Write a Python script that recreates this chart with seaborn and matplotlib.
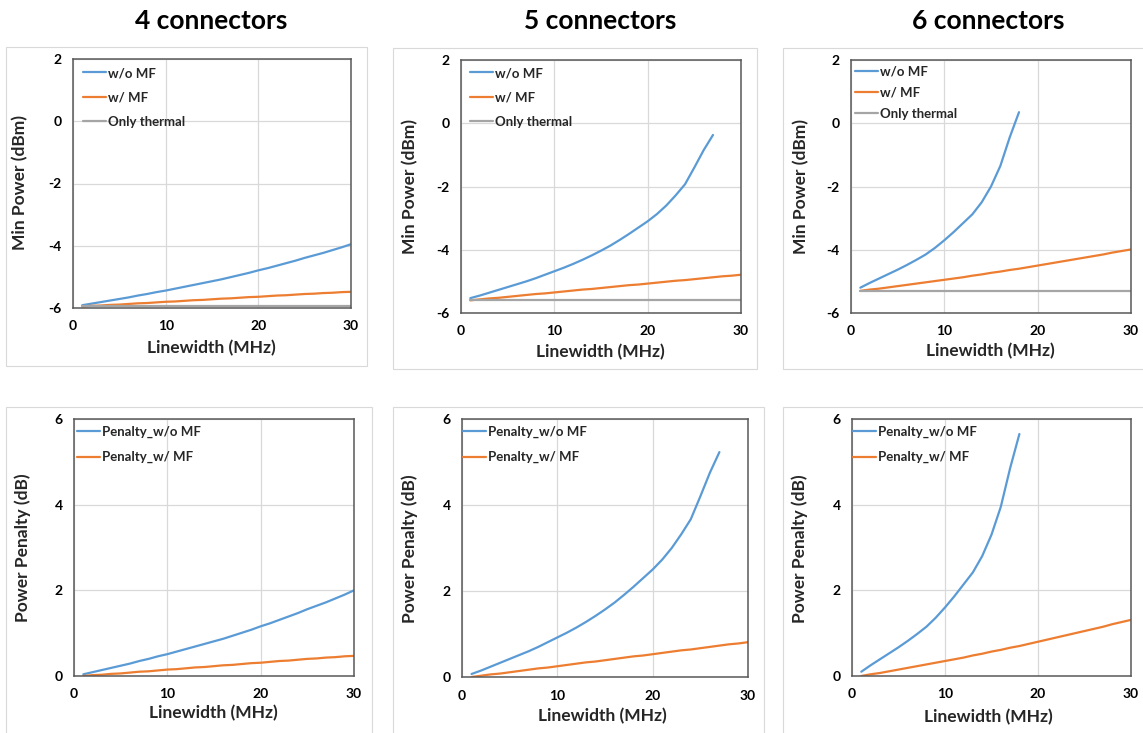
import matplotlib
matplotlib.use("Agg")
import matplotlib.pyplot as plt
from matplotlib.patches import Rectangle
import seaborn as sns

# ---------------- data ----------------
linewidth_mhz = [1, 2, 3, 4, 5, 6, 7, 8, 9, 10, 11, 12, 13, 14, 15,
                 16, 17, 18, 19, 20, 21, 22, 23, 24, 25, 26, 27, 28, 29, 30]

connector_titles = ["4 connectors", "5 connectors", "6 connectors"]
series_min_power = ["w/o MF", "w/ MF", "Only thermal"]
series_penalty = ["Penalty_w/o MF", "Penalty_w/ MF"]

# thermal-noise-only sensitivity (dBm), flat over linewidth
thermal_4 = -5.95
thermal_5 = -5.60
thermal_6 = -5.30

# minimum received power (dBm)
min_power_wo_mf_4 = [-5.91, -5.86, -5.81, -5.76, -5.71, -5.66, -5.60, -5.55, -5.49, -5.44,
                     -5.38, -5.32, -5.26, -5.20, -5.14, -5.08, -5.01, -4.94, -4.87, -4.79,
                     -4.72, -4.64, -4.56, -4.48, -4.39, -4.31, -4.23, -4.14, -4.05, -3.95]
min_power_w_mf_4 = [-5.95, -5.93, -5.92, -5.90, -5.89, -5.87, -5.85, -5.84, -5.82, -5.80,
                    -5.79, -5.77, -5.75, -5.74, -5.72, -5.70, -5.69, -5.67, -5.65, -5.64,
                    -5.62, -5.60, -5.59, -5.57, -5.55, -5.54, -5.52, -5.51, -5.49, -5.48]

min_power_wo_mf_5 = [-5.53, -5.45, -5.36, -5.27, -5.18, -5.09, -5.00, -4.90, -4.79, -4.68,
                     -4.57, -4.45, -4.32, -4.18, -4.03, -3.87, -3.69, -3.50, -3.30, -3.10,
                     -2.87, -2.60, -2.28, -1.93, -1.40, -0.85, -0.37]
min_power_w_mf_5 = [-5.60, -5.57, -5.54, -5.52, -5.49, -5.46, -5.43, -5.40, -5.38, -5.35,
                    -5.32, -5.29, -5.26, -5.24, -5.21, -5.18, -5.15, -5.12, -5.10, -5.07,
                    -5.04, -5.01, -4.98, -4.96, -4.93, -4.90, -4.87, -4.84, -4.82, -4.79]

min_power_wo_mf_6 = [-5.20, -5.05, -4.91, -4.77, -4.63, -4.48, -4.32, -4.15, -3.94, -3.70,
                     -3.44, -3.16, -2.88, -2.50, -2.00, -1.35, -0.45, 0.35]
min_power_w_mf_6 = [-5.30, -5.26, -5.23, -5.19, -5.15, -5.11, -5.07, -5.03, -4.99, -4.95,
                    -4.91, -4.87, -4.82, -4.78, -4.73, -4.69, -4.64, -4.60, -4.55, -4.50,
                    -4.45, -4.40, -4.35, -4.30, -4.25, -4.20, -4.15, -4.09, -4.04, -3.99]

# power penalty (dB)
penalty_wo_mf_4 = [0.04, 0.09, 0.14, 0.19, 0.24, 0.29, 0.35, 0.40, 0.46, 0.51,
                   0.57, 0.63, 0.69, 0.75, 0.81, 0.87, 0.94, 1.01, 1.08, 1.16,
                   1.23, 1.31, 1.39, 1.47, 1.56, 1.64, 1.72, 1.81, 1.90, 2.00]
penalty_w_mf_4 = [0.00, 0.02, 0.03, 0.05, 0.06, 0.08, 0.10, 0.11, 0.13, 0.15,
                  0.16, 0.18, 0.20, 0.21, 0.23, 0.25, 0.26, 0.28, 0.30, 0.31,
                  0.33, 0.35, 0.36, 0.38, 0.40, 0.41, 0.43, 0.44, 0.46, 0.47]

penalty_wo_mf_5 = [0.07, 0.15, 0.24, 0.33, 0.42, 0.51, 0.60, 0.70, 0.81, 0.92,
                   1.03, 1.15, 1.28, 1.42, 1.57, 1.73, 1.91, 2.10, 2.30, 2.50,
                   2.73, 3.00, 3.32, 3.67, 4.20, 4.75, 5.23]
penalty_w_mf_5 = [0.00, 0.03, 0.06, 0.08, 0.11, 0.14, 0.17, 0.20, 0.22, 0.25,
                  0.28, 0.31, 0.34, 0.36, 0.39, 0.42, 0.45, 0.48, 0.50, 0.53,
                  0.56, 0.59, 0.62, 0.64, 0.67, 0.70, 0.73, 0.76, 0.78, 0.81]

penalty_wo_mf_6 = [0.10, 0.25, 0.39, 0.53, 0.67, 0.82, 0.98, 1.15, 1.36, 1.60,
                   1.86, 2.14, 2.42, 2.80, 3.30, 3.95, 4.85, 5.65]
penalty_w_mf_6 = [0.00, 0.04, 0.07, 0.11, 0.15, 0.19, 0.23, 0.27, 0.31, 0.35,
                  0.39, 0.43, 0.48, 0.52, 0.57, 0.61, 0.66, 0.70, 0.75, 0.80,
                  0.85, 0.90, 0.95, 1.00, 1.05, 1.10, 1.15, 1.21, 1.26, 1.31]

x_ticks = [0, 10, 20, 30]
min_power_ticks = [-6, -4, -2, 0, 2]
penalty_ticks = [0, 2, 4, 6]

# ---------------- style ----------------
sns.set_theme(style="white")
plt.rcParams["font.family"] = ["Lato", "DejaVu Sans"]
plt.rcParams["font.weight"] = "bold"
plt.rcParams["axes.labelweight"] = "bold"
plt.rcParams["axes.unicode_minus"] = False

BLUE = "#5B9BD5"
ORANGE = "#ED7D31"
GRAY = "#A5A5A5"
GRID = "#D9D9D9"
FRAME = "#595959"
PANEL_EDGE = "#D9D9D9"

W, H = 1143, 733
fig = plt.figure(figsize=(W / 100, H / 100), dpi=100)


def fig_rect(x0, y0, x1, y1):
    return [x0 / W, 1 - y1 / H, (x1 - x0) / W, (y1 - y0) / H]


# light chart-area outlines around each panel
for (x0, y0, x1, y1) in [(6, 47, 367, 366), (393, 48, 757, 369), (783, 48, 1150, 369),
                         (6, 407, 372, 745), (393, 407, 764, 745), (783, 407, 1150, 745)]:
    fig.add_artist(Rectangle((x0 / W, 1 - y1 / H), (x1 - x0) / W, (y1 - y0) / H,
                             transform=fig.transFigure, fill=False,
                             edgecolor=PANEL_EDGE, lw=0.8))

for title, cx in zip(connector_titles, [211, 600, 988]):
    fig.text(cx / W, 1 - 21 / H, title, ha="center", va="center",
             fontsize=19, fontweight="bold", color="black")


def draw_panel(box, lines, ylim, yticks, ylabel, ylab_px, xlab_px,
               leg_x_px, leg_top_px, leg_spacing):
    x0, y0, x1, y1 = box
    ax = fig.add_axes(fig_rect(x0, y0, x1, y1))
    for xs, ys, color, label in lines:
        sns.lineplot(x=xs, y=ys, ax=ax, color=color, lw=1.6, label=label,
                     estimator=None, sort=False)
    ax.set_xlim(0, 30)
    ax.set_ylim(*ylim)
    ax.set_xticks(x_ticks)
    ax.set_yticks(yticks)
    ax.grid(True, color=GRID, lw=0.9)
    ax.set_axisbelow(True)
    ax.tick_params(axis="both", length=0, labelsize=10, colors="black")
    ax.tick_params(axis="x", pad=9)
    ax.tick_params(axis="y", pad=8)
    for sp in ax.spines.values():
        sp.set_visible(True)
        sp.set_color(FRAME)
        sp.set_linewidth(1.1)
    ax.set_xlabel("Linewidth (MHz)", fontsize=12.5, fontweight="bold", va="center")
    ax.set_ylabel(ylabel, fontsize=12.5, fontweight="bold", va="center")
    ax.xaxis.set_label_coords((xlab_px[0] - x0) / (x1 - x0), (y1 - xlab_px[1]) / (y1 - y0))
    ax.yaxis.set_label_coords((ylab_px[0] - x0) / (x1 - x0), (y1 - ylab_px[1]) / (y1 - y0))
    ax.legend(loc="upper left", frameon=False,
              bbox_to_anchor=((leg_x_px - x0) / (x1 - x0), (y1 - leg_top_px) / (y1 - y0)),
              borderpad=0, borderaxespad=0, handlelength=1.75, handletextpad=0.15,
              labelspacing=leg_spacing, prop={"weight": "bold", "size": 9.5})
    return ax


thermals = [thermal_4, thermal_5, thermal_6]
mp_wo = [min_power_wo_mf_4, min_power_wo_mf_5, min_power_wo_mf_6]
mp_w = [min_power_w_mf_4, min_power_w_mf_5, min_power_w_mf_6]
pen_wo = [penalty_wo_mf_4, penalty_wo_mf_5, penalty_wo_mf_6]
pen_w = [penalty_w_mf_4, penalty_w_mf_5, penalty_w_mf_6]

top_boxes = [(73, 59, 351, 308), (461, 60, 741, 313), (851, 60, 1131, 313)]
top_ylab = [(20, 183), (410, 186), (801, 186)]
top_xlab = [(211, 348), (600, 352), (990, 351)]
top_leg = [(83, 67, 0.95), (470, 67, 0.95), (855, 66, 0.68)]

bot_boxes = [(74, 419, 354, 676), (462, 419, 748, 677), (852, 419, 1131, 676)]
bot_ylab = [(23, 548), (410, 549), (800, 549)]
bot_xlab = [(213, 713), (602, 716), (988, 717)]
bot_leg = [(77, 426, 0.98), (463, 426, 0.98), (853, 426, 0.98)]

for i in range(3):
    n_wo = len(mp_wo[i])
    draw_panel(top_boxes[i],
               [(linewidth_mhz[:n_wo], mp_wo[i], BLUE, series_min_power[0]),
                (linewidth_mhz, mp_w[i], ORANGE, series_min_power[1]),
                (linewidth_mhz, [thermals[i]] * len(linewidth_mhz), GRAY, series_min_power[2])],
               (-6, 2), min_power_ticks, "Min Power (dBm)",
               top_ylab[i], top_xlab[i], top_leg[i][0], top_leg[i][1], top_leg[i][2])
    n_pw = len(pen_wo[i])
    draw_panel(bot_boxes[i],
               [(linewidth_mhz[:n_pw], pen_wo[i], BLUE, series_penalty[0]),
                (linewidth_mhz, pen_w[i], ORANGE, series_penalty[1])],
               (0, 6), penalty_ticks, "Power Penalty (dB)",
               bot_ylab[i], bot_xlab[i], bot_leg[i][0], bot_leg[i][1], bot_leg[i][2])

fig.savefig("out.png", dpi=100, facecolor="white")
